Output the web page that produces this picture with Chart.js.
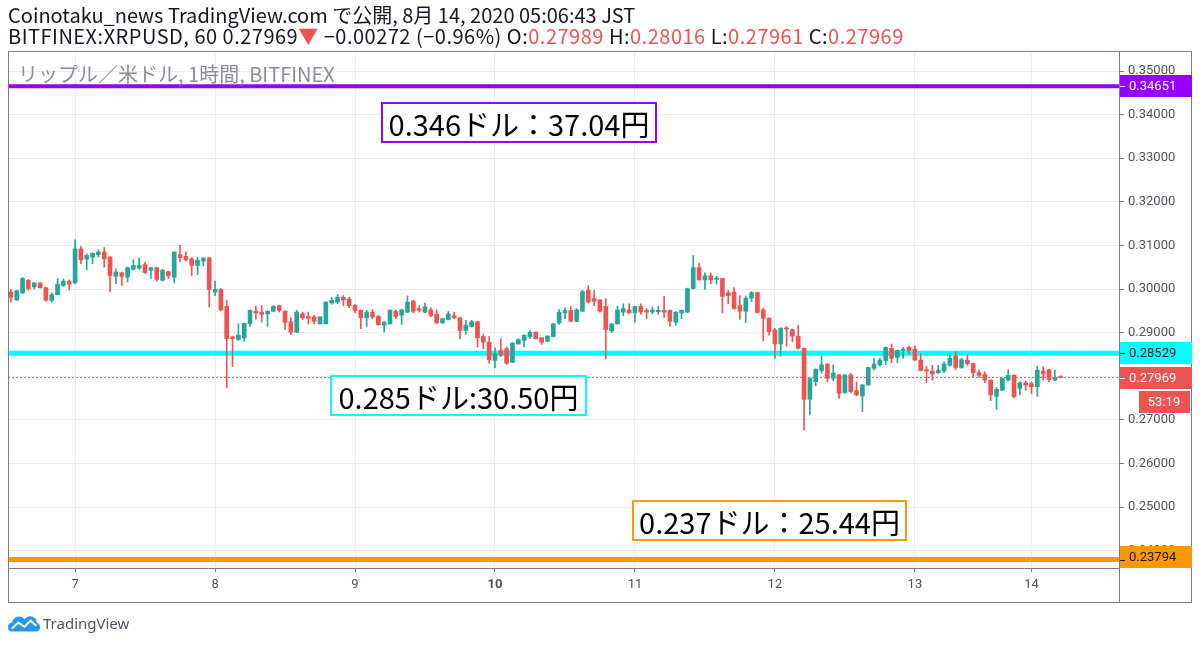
<!DOCTYPE html>
<html>
<head>
<meta charset="utf-8">
<script src="https://cdn.jsdelivr.net/npm/chart.js@4.4.0/dist/chart.umd.min.js"></script>
<style>
  body { margin:0; width:1200px; height:647px; background:#fff; position:relative; overflow:hidden;
         font-family:"Noto Sans CJK JP","Noto Sans",sans-serif; color:#131722; }
  #chart { position:absolute; left:0; top:0; }
  .hdr { position:absolute; left:8px; font-size:20px; line-height:22px; white-space:nowrap; }
  .red { color:#ef5350; }
  .wm { position:absolute; left:18px; top:64px; font-size:20px; line-height:20px; color:#8a8d96; white-space:nowrap; }
  .note { position:absolute; box-sizing:border-box; height:41px; background:#fff; border:2px solid;
          display:flex; align-items:center; justify-content:center; font-size:29px; color:#000; white-space:nowrap; }
  .logo { position:absolute; left:8px; top:613px; display:flex; align-items:center; }
  .logo span { font-size:15px; color:#50535e; margin-left:3px; font-family:"Noto Sans",sans-serif; }
</style>
</head>
<body>
<canvas id="chart" width="1200" height="647"></canvas>

<div class="hdr" style="top:4px">Coinotaku_news TradingView.com で公開, 8月 14, 2020 05:06:43 JST</div>
<div class="hdr" style="top:25px; letter-spacing:0.5px">BITFINEX:XRPUSD, 60 0.27969<span class="red">▼</span> −0.00272 (−0.96%) O:<span class="red">0.27989</span> H:<span class="red">0.28016</span> L:<span class="red">0.27961</span> C:<span class="red">0.27969</span></div>
<div class="wm">リップル／米ドル, 1時間, BITFINEX</div>

<div class="note" style="left:381px; top:102px; width:276px; border-color:#9600ff">0.346ドル：37.04円</div>
<div class="note" style="left:330px; top:375px; width:257px; border-color:#00ffff">0.285ドル:30.50円</div>
<div class="note" style="left:632px; top:500px; width:275px; border-color:#ff9800">0.237ドル：25.44円</div>

<div class="logo">
  <svg width="32" height="20" viewBox="0 0 34 20">
    <path d="M4 19 Q0 19 0 14.5 Q0 10 4.5 9.5 Q6 3 12 3 Q15.5 3 17.5 6 Q20.5 2 25.5 3 Q30.5 4.5 30.5 9.5 Q34 10.5 34 14.5 Q34 19 29.5 19 Z" fill="#2196f3"/>
    <polyline points="4,16 11,9.5 17.5,14 24,7.5 30,13" stroke="#fff" stroke-width="2.2" fill="none"/>
  </svg>
  <span>TradingView</span>
</div>

<script>
// hourly candles, Aug 6 13:00 -> Aug 14 05:00 (JST)
const openPrices = [
  .2993,.2975,.2991,.3020,.3005,.3014,.3003,.2974,.2987,.3008,
  .3018,.3014,.3092,.3069,.3073,.3079,.3085,.3073,.3029,.3037,
  .3027,.3045,.3048,.3056,.3043,.3049,.3020,.3040,.3027,.3079,
  .3075,.3069,.3054,.3064,.3071,.2993,.2999,.2960,.2890,.2884,
  .2888,.2920,.2949,.2947,.2943,.2949,.2962,.2949,.2925,.2901,
  .2943,.2937,.2936,.2920,.2920,.2968,.2970,.2981,.2977,.2962,
  .2951,.2934,.2947,.2937,.2917,.2920,.2949,.2940,.2947,.2972,
  .2955,.2947,.2952,.2942,.2922,.2930,.2939,.2934,.2905,.2914,
  .2925,.2891,.2878,.2836,.2859,.2863,.2832,.2874,.2882,.2891,
  .2901,.2888,.2880,.2891,.2922,.2945,.2951,.2926,.2949,.2997,
  .2978,.2975,.2960,.2904,.2920,.2947,.2952,.2945,.2960,.2951,
  .2947,.2948,.2951,.2951,.2924,.2945,.2947,.3001,.3049,.3021,
  .3030,.3022,.3024,.2991,.2993,.2962,.2949,.2979,.2992,.2952,
  .2933,.2906,.2874,.2911,.2907,.2892,.2864,.2747,.2787,.2813,
  .2828,.2795,.2803,.2762,.2803,.2767,.2755,.2780,.2818,.2826,
  .2836,.2864,.2843,.2859,.2866,.2862,.2837,.2815,.2812,.2808,
  .2812,.2825,.2846,.2820,.2837,.2829,.2808,.2804,.2791,.2754,
  .2768,.2791,.2802,.2772,.2785,.2783,.2776,.2812,.2815,.2791,
  .27989
];
const highPrices = [
  .2998,.2997,.3027,.3022,.3015,.3015,.3004,.2991,.3024,.3023,
  .3021,.3113,.3098,.3081,.3083,.3090,.3095,.3075,.3046,.3039,
  .3050,.3067,.3071,.3062,.3050,.3050,.3045,.3041,.3085,.3100,
  .3085,.3072,.3073,.3072,.3073,.3018,.3001,.2974,.2892,.2920,
  .2922,.2952,.2960,.2962,.2950,.2962,.2963,.2950,.2934,.2951,
  .2947,.2947,.2940,.2937,.2971,.2981,.2987,.2985,.2981,.2965,
  .2952,.2951,.2953,.2940,.2926,.2952,.2952,.2954,.2984,.2974,
  .2962,.2968,.2957,.2952,.2933,.2949,.2947,.2935,.2928,.2928,
  .2926,.2897,.2891,.2865,.2886,.2867,.2877,.2886,.2895,.2904,
  .2902,.2889,.2893,.2921,.2953,.2957,.2960,.2955,.2997,.3008,
  .2997,.2976,.2978,.2921,.2960,.2966,.2966,.2961,.2966,.2955,
  .2959,.2960,.2983,.2952,.2948,.2952,.3002,.3077,.3059,.3037,
  .3037,.3029,.3025,.2997,.3003,.2985,.2984,.2994,.2993,.2956,
  .2934,.2910,.2911,.2914,.2908,.2917,.2865,.2796,.2817,.2846,
  .2829,.2826,.2804,.2804,.2807,.2787,.2781,.2821,.2841,.2841,
  .2867,.2874,.2860,.2866,.2869,.2869,.2852,.2822,.2825,.2825,
  .2833,.2852,.2856,.2841,.2848,.2830,.2814,.2810,.2792,.2774,
  .2796,.2815,.2803,.2787,.2789,.2787,.2823,.2822,.2816,.2814,
  .28016
];
const lowPrices = [
  .2970,.2974,.2989,.2997,.3000,.3002,.2972,.2970,.2987,.3006,
  .2998,.3012,.3058,.3044,.3058,.3073,.3050,.2994,.3012,.3008,
  .3016,.3043,.3045,.3036,.3024,.3018,.3018,.3024,.3014,.3062,
  .3064,.3031,.3033,.3053,.2959,.2985,.2950,.2774,.2822,.2882,
  .2880,.2914,.2930,.2924,.2914,.2948,.2947,.2907,.2896,.2900,
  .2930,.2920,.2920,.2920,.2920,.2965,.2966,.2962,.2957,.2945,
  .2909,.2914,.2932,.2917,.2901,.2920,.2932,.2919,.2946,.2945,
  .2947,.2946,.2936,.2921,.2921,.2929,.2932,.2886,.2896,.2913,
  .2867,.2863,.2830,.2819,.2845,.2827,.2831,.2873,.2868,.2886,
  .2885,.2873,.2879,.2890,.2919,.2932,.2925,.2925,.2948,.2968,
  .2962,.2947,.2840,.2900,.2919,.2939,.2944,.2924,.2942,.2932,
  .2943,.2942,.2934,.2914,.2917,.2932,.2946,.3000,.3020,.2999,
  .3012,.3011,.2945,.2966,.2954,.2930,.2923,.2971,.2945,.2881,
  .2894,.2841,.2846,.2869,.2879,.2862,.2677,.2711,.2778,.2807,
  .2787,.2790,.2749,.2761,.2762,.2755,.2719,.2779,.2814,.2823,
  .2826,.2831,.2831,.2841,.2851,.2836,.2812,.2785,.2791,.2806,
  .2808,.2823,.2815,.2818,.2825,.2799,.2797,.2785,.2744,.2724,
  .2767,.2789,.2751,.2757,.2768,.2760,.2754,.2791,.2787,.2790,
  .27961
];
const closePrices = [
  .2981,.2996,.3024,.3001,.3014,.3003,.2974,.2987,.3011,.3018,
  .3011,.3092,.3067,.3077,.3082,.3085,.3069,.3031,.3039,.3029,
  .3049,.3054,.3054,.3038,.3049,.3022,.3043,.3030,.3085,.3072,
  .3067,.3054,.3066,.3071,.2999,.2999,.2952,.2886,.2886,.2894,
  .2921,.2951,.2945,.2942,.2949,.2960,.2951,.2923,.2901,.2947,
  .2934,.2933,.2926,.2936,.2970,.2974,.2981,.2975,.2962,.2951,
  .2934,.2947,.2936,.2918,.2924,.2951,.2937,.2952,.2970,.2949,
  .2951,.2959,.2939,.2922,.2932,.2943,.2934,.2905,.2917,.2925,
  .2888,.2878,.2838,.2852,.2848,.2830,.2876,.2884,.2894,.2901,
  .2886,.2878,.2892,.2920,.2947,.2951,.2926,.2952,.2994,.2970,
  .2972,.2949,.2907,.2920,.2952,.2955,.2945,.2960,.2947,.2947,
  .2952,.2951,.2947,.2926,.2947,.2951,.3001,.3049,.3021,.3030,
  .3021,.3025,.2983,.2985,.2955,.2949,.2979,.2992,.2946,.2933,
  .2902,.2874,.2910,.2908,.2892,.2864,.2747,.2795,.2816,.2826,
  .2795,.2807,.2761,.2803,.2765,.2757,.2780,.2820,.2828,.2837,
  .2866,.2841,.2859,.2862,.2859,.2837,.2813,.2812,.2805,.2814,
  .2828,.2841,.2820,.2838,.2829,.2808,.2802,.2791,.2757,.2770,
  .2795,.2802,.2753,.2785,.2780,.2776,.2814,.2805,.2792,.2796,
  .27969
];

// x axis: bar index of each day start, and its label
const dayTickIndex = [11, 35, 59, 83, 107, 131, 155, 175];
const dayLabels = ['7', '8', '9', '10', '11', '12', '13', '14'];
const boldDay = '10';

// y axis ticks
const yTickValues = [0.24, 0.25, 0.26, 0.27, 0.28, 0.29, 0.30, 0.31, 0.32, 0.33, 0.34, 0.35];

// horizontal levels drawn on the chart
const purpleLevel = 0.34651;
const cyanLevel = 0.28529;
const orangeLevel = 0.23794;
const lastPrice = 0.27969;
const countdown = '53:19';

const UP = '#26a69a', DOWN = '#ef5350';
const gridColor = '#e8edf3';
const axisColor = '#787b86';
const X_MIN = -0.5, X_MAX = 190;

const idx = openPrices.map((_, i) => i);
const candleColors = idx.map(i => closePrices[i] >= openPrices[i] ? UP : DOWN);

function levelLine(v, color, width, dash) {
  return {
    type: 'line',
    data: [{ x: X_MIN, y: v }, { x: X_MAX, y: v }],
    borderColor: color,
    borderWidth: width,
    borderDash: dash || [],
    pointRadius: 0,
    order: 5
  };
}

// price tags on the right axis + outer frame
const tagPlugin = {
  id: 'priceTags',
  afterDraw(chart) {
    const { ctx, chartArea, scales } = chart;
    const y = scales.y;
    const left = chartArea.right, right = 1192, h = 22;
    ctx.save();
    // frame
    ctx.strokeStyle = axisColor;
    ctx.lineWidth = 1;
    ctx.strokeRect(8.5, 51.5, 1183, 551);
    ctx.beginPath();
    ctx.moveTo(left + 0.5, chartArea.bottom);
    ctx.lineTo(left + 0.5, 603);
    ctx.stroke();

    const tags = [
      { v: purpleLevel, bg: '#9600ff', fg: '#fff' },
      { v: cyanLevel, bg: '#00ffff', fg: '#131722' },
      { v: lastPrice, bg: '#ef5350', fg: '#fff' },
      { v: orangeLevel, bg: '#ff9800', fg: '#131722' }
    ];
    ctx.font = '13px Roboto, "Liberation Sans", sans-serif';
    ctx.textBaseline = 'middle';
    tags.forEach(t => {
      const py = y.getPixelForValue(t.v);
      let top = Math.round(py - h / 2);
      if (top + h > chartArea.bottom) top = chartArea.bottom - h;
      ctx.fillStyle = t.bg;
      ctx.fillRect(left + 1, top, right - left - 1, h);
      ctx.strokeStyle = t.fg;
      ctx.beginPath();
      ctx.moveTo(left + 1, Math.round(py) + 0.5);
      ctx.lineTo(left + 6, Math.round(py) + 0.5);
      ctx.stroke();
      ctx.fillStyle = t.fg;
      ctx.textAlign = 'left';
      ctx.fillText(t.v.toFixed(5), left + 10, top + h / 2 + 1);
    });
    // countdown under the last price
    const lp = y.getPixelForValue(lastPrice);
    const ct = Math.round(lp - h / 2) + h + 2;
    ctx.fillStyle = '#ef5350';
    ctx.fillRect(1139, ct, right - 1139 - 2, h);
    ctx.fillStyle = '#fff';
    ctx.textAlign = 'center';
    ctx.fillText(countdown, 1164, ct + h / 2 + 1);
    ctx.restore();
  }
};

new Chart(document.getElementById('chart'), {
  type: 'bar',
  data: {
    datasets: [
      {
        data: idx.map(i => ({ x: i, y: [openPrices[i], closePrices[i]] })),
        backgroundColor: candleColors,
        barThickness: 4,
        minBarLength: 1,
        grouped: false,
        order: 1
      },
      {
        data: idx.map(i => ({ x: i, y: [lowPrices[i], highPrices[i]] })),
        backgroundColor: candleColors,
        barThickness: 1,
        grouped: false,
        order: 2
      },
      levelLine(lastPrice, '#ef5350', 1, [2, 2]),
      levelLine(purpleLevel, '#9600ff', 4),
      levelLine(cyanLevel, '#00ffff', 5),
      levelLine(orangeLevel, '#ff9800', 5)
    ]
  },
  options: {
    responsive: false,
    animation: false,
    layout: { padding: { left: 8, top: 52, right: 8, bottom: 44 } },
    plugins: { legend: { display: false }, tooltip: { enabled: false } },
    scales: {
      x: {
        type: 'linear',
        min: X_MIN,
        max: X_MAX,
        offset: false,
        afterBuildTicks: s => { s.ticks = dayTickIndex.map(v => ({ value: v })); },
        afterFit: s => { s.height = 35; },
        grid: { color: gridColor, offset: false, tickLength: 4, tickColor: axisColor },
        border: { color: axisColor },
        ticks: {
          autoSkip: false,
          maxRotation: 0,
          padding: 5,
          color: '#50535e',
          font: c => ({
            family: 'Roboto, "Liberation Sans", sans-serif',
            size: 13,
            weight: (c.tick && dayLabels[dayTickIndex.indexOf(c.tick.value)] === boldDay) ? 'bold' : 'normal'
          }),
          callback: v => dayLabels[dayTickIndex.indexOf(v)]
        }
      },
      y: {
        position: 'right',
        min: 0.23601,
        max: 0.35436,
        afterBuildTicks: s => { s.ticks = yTickValues.map(v => ({ value: v })); },
        afterFit: s => { s.width = 73; },
        grid: { color: gridColor, tickLength: 5, tickColor: axisColor },
        border: { color: axisColor },
        ticks: {
          padding: 4,
          color: '#50535e',
          font: { family: 'Roboto, "Liberation Sans", sans-serif', size: 13 },
          callback: v => v.toFixed(5)
        }
      }
    }
  },
  plugins: [tagPlugin]
});
</script>
</body>
</html>
